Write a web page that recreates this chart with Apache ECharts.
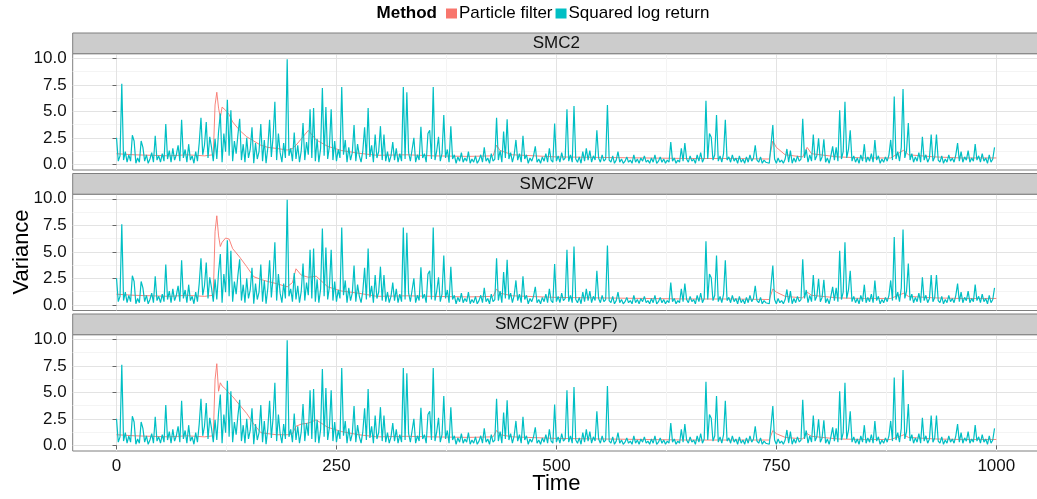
<!DOCTYPE html>
<html><head><meta charset="utf-8">
<script src="https://cdn.jsdelivr.net/npm/echarts@6.0.0/dist/echarts.min.js"></script>
<style>html,body{margin:0;padding:0;background:#fff}#c{width:1037px;height:499px}</style>
</head><body><div id="c"></div>
<script>
const panelNames = ['SMC2', 'SMC2FW', 'SMC2FW (PPF)'];
const xTicks = [0, 250, 500, 750, 1000];
const xMinor = [125, 375, 625, 875];
const yTicks = [0, 2.5, 5, 7.5, 10];
const yMinor = [1.25, 3.75, 6.25, 8.75];

// Squared log return, one value every 2 time steps (t = 0, 2, 4, ...)
const sqStep = 2;
const sqLogReturn = [
 2.5,0.3,0.8,7.6,0.4,1.2,0.2,0.9,0.3,2.75,2.2,0.1,0.6,0.2,2.2,1.6,0.3,0.9,0.1,0.5,1.1,0.2,2.7,0.4,0.8,
 0.2,1.0,0.3,3.8,0.5,1.3,0.2,1.5,0.4,0.9,1.8,0.3,4.2,0.6,1.4,0.2,1.9,0.4,0.8,0.1,1.2,0.3,2.0,4.4,0.9,
 1.8,4.0,0.6,2.6,1.6,0.3,2.4,0.5,3.1,4.8,0.2,2.9,1.2,6.1,0.8,5.1,0.3,2.2,1.0,2.8,4.3,0.4,1.9,0.2,2.5,
 0.6,1.4,3.5,0.1,2.0,0.5,1.2,3.8,0.3,2.3,0.1,1.6,4.2,0.7,2.6,5.9,0.4,2.9,1.1,0.2,2.0,0.6,9.9,0.8,1.5,
 0.3,3.0,0.5,1.8,0.2,1.3,3.9,0.4,2.1,0.9,5.2,0.6,5.3,0.3,2.4,0.2,1.5,7.2,0.8,5.4,0.5,1.7,5.2,0.4,2.2,
 0.3,1.4,0.6,7.3,0.9,2.3,0.2,1.6,0.4,1.1,3.7,0.3,1.9,0.8,0.2,1.3,3.5,0.5,5.3,0.7,1.8,0.2,2.8,0.6,1.2,
 3.6,0.4,2.8,0.3,1.2,0.2,0.8,2.1,0.4,1.5,0.2,1.0,0.3,7.3,0.5,6.8,1.1,0.3,1.4,2.5,0.2,0.9,0.4,3.55,0.6,
 1.0,0.2,2.9,3.2,0.5,7.3,0.4,1.3,2.6,0.3,1.0,4.65,0.6,1.4,0.2,3.6,0.5,0.9,0.1,0.7,0.3,1.1,0.2,0.6,0.3,
 1.2,0.1,0.5,0.2,0.8,0.1,0.4,0.9,0.2,1.6,0.3,0.6,0.1,1.0,0.3,0.5,4.4,0.4,1.3,0.2,3.1,0.6,4.25,0.5,1.1,
 0.2,0.9,2.3,0.4,1.0,0.2,2.7,0.5,0.9,0.1,0.6,0.3,0.8,1.7,0.2,0.5,0.1,0.7,0.3,1.0,0.2,1.5,0.4,0.2,3.86,
 0.3,0.8,0.2,1.1,0.4,0.6,5.2,0.3,0.9,0.2,5.5,0.5,0.2,0.7,0.1,1.2,0.3,1.5,0.4,1.3,0.2,0.8,0.4,3.2,0.6,
 0.2,0.9,0.3,0.5,5.6,0.4,0.2,0.8,0.1,0.4,1.2,0.2,0.5,0.1,0.3,0.7,0.2,0.4,0.1,0.9,0.2,0.5,0.1,0.6,0.3,
 0.8,0.2,0.4,0.1,0.6,0.2,0.9,0.1,0.3,0.7,0.2,0.5,0.1,0.4,0.2,2.1,0.3,0.6,0.1,0.4,0.2,1.5,0.3,2.0,0.5,
 0.2,0.8,0.3,0.5,0.1,0.9,0.3,1.1,0.2,0.6,6.0,0.5,2.9,2.55,0.4,0.9,4.65,0.3,0.8,0.2,1.0,4.2,0.4,0.7,0.2,
 0.9,0.3,0.6,0.1,0.8,0.2,0.5,0.1,0.7,0.2,0.9,0.3,0.6,1.8,0.4,0.2,0.7,0.1,0.4,0.2,0.3,0.1,0.2,3.7,0.5,
 0.1,0.6,0.2,0.4,0.1,0.5,1.45,0.2,1.3,0.1,0.6,0.2,0.8,0.3,0.5,4.3,0.6,1.4,0.2,0.9,0.3,2.8,0.4,0.8,2.45,
 0.3,0.7,2.35,0.2,0.6,0.1,0.8,1.7,0.4,1.6,0.3,5.1,0.5,1.2,5.9,0.6,1.4,3.2,0.3,0.8,0.2,0.6,0.1,0.9,0.3,
 1.9,0.2,0.7,0.3,1.0,0.2,2.3,0.4,0.8,0.1,0.5,0.2,0.7,0.3,0.9,2.3,0.4,6.4,0.5,1.2,0.3,1.6,7.1,0.6,1.3,
 3.9,0.4,1.0,0.2,0.7,0.3,1.1,0.2,2.6,0.4,0.9,0.2,0.6,2.8,0.3,0.7,2.8,0.4,0.2,0.8,0.1,0.5,0.2,0.9,0.3,
 0.6,0.2,0.9,2.0,0.3,1.2,0.2,0.7,0.4,1.3,0.2,0.6,0.3,1.9,0.4,0.8,0.2,1.0,0.3,0.6,0.1,0.9,0.2,0.5,1.6
];

// Particle filter variance estimates (per panel)
const pfTime = [0,20,40,60,80,100, 110,112,114,116,118,120, 124,128,132,140,148,156,
 164,172,182,194,200,204, 210,218,227,240,256,275, 296,330,360,400,428,432,
 436,450,500,550,600,650, 700,742,746,750,760,780, 785,790,820,850,880,892, 895,900,930,960,1000];
const pfSMC2 = [1.0,0.9,0.85,0.8,0.9,0.8, 0.9,5.6,6.8,5.3,4.4,5.4, 5.1,4.7,4.0,3.2,2.6,2.2,
 1.8,1.6,1.5,1.35,1.5,1.8, 2.4,3.2,2.3,1.7,1.3,1.05, 0.85,0.9,0.8,0.75,0.8,1.8,
 1.3,0.9,0.7,0.65,0.6,0.55, 0.55,0.5,2.2,1.6,0.9,0.7, 1.6,1.0,0.7,0.6,0.6,1.2, 1.35,0.9,0.7,0.6,0.6];
const pfSMC2FW = [1.0,0.9,0.85,0.8,0.9,0.8, 0.9,6.9,8.4,6.5,5.5,5.9, 6.3,6.2,5.3,4.5,3.6,2.65,
 2.4,2.2,2.0,1.7,2.1,3.4, 2.8,2.6,2.7,1.7,1.3,1.1, 0.8,0.85,0.8,0.75,0.8,1.5,
 1.1,0.85,0.7,0.65,0.6,0.55, 0.55,0.5,1.5,1.2,0.8,0.65, 1.2,0.9,0.65,0.6,0.6,1.0, 1.1,0.8,0.65,0.6,0.6];
const pfPPF = [1.0,0.9,0.85,0.8,0.9,0.8, 0.9,6.2,7.7,5.1,5.9,5.6, 5.3,4.9,4.6,3.8,3.0,2.0,
 1.2,1.1,1.0,1.0,1.1,1.8, 2.0,2.1,2.4,1.7,1.3,1.0, 0.8,0.85,0.8,0.75,0.8,1.4,
 1.0,0.8,0.65,0.6,0.55,0.5, 0.5,0.5,1.4,1.1,0.75,0.6, 1.1,0.85,0.6,0.55,0.55,0.9, 1.0,0.75,0.6,0.55,0.55];
const pfByPanel = [pfSMC2, pfSMC2FW, pfPPF];

const FONT = 'Liberation Sans, Arial, sans-serif';
const RED = '#F8766D', TEAL = '#00BFC4';
const L = 72.7, W = 967.4, TOP0 = 53.7, H = 116.3, STEP = 140.5, STRIP = 20.7;
const XMIN = -49.8, XMAX = 1049.8, YMIN = -0.535, YMAX = 10.435;

const grid = [], xAxis = [], yAxis = [], series = [], graphic = [];
panelNames.forEach((name, i) => {
  const top = TOP0 + i * STEP;
  const bottom = i === panelNames.length - 1;
  grid.push({left: L, top: top, width: W, height: H, show: true, outerBoundsMode: 'none', containLabel: false,
    backgroundColor: '#fff', borderColor: '#7f7f7f', borderWidth: 1});
  // minor grid axes
  xAxis.push({type: 'value', gridIndex: i, min: XMIN, max: XMAX, position: 'bottom',
    axisLine: {show: false}, axisTick: {show: false, customValues: xMinor},
    axisLabel: {show: false, customValues: xMinor},
    splitLine: {show: true, lineStyle: {color: '#f4f4f4', width: 1}}});
  yAxis.push({type: 'value', gridIndex: i, min: YMIN, max: YMAX, position: 'left',
    axisLine: {show: false}, axisTick: {show: false, customValues: yMinor},
    axisLabel: {show: false, customValues: yMinor},
    splitLine: {show: true, lineStyle: {color: '#f4f4f4', width: 1}}});
  // major axes
  xAxis.push({type: 'value', gridIndex: i, min: XMIN, max: XMAX, position: 'bottom', offset: 0,
    axisLine: {show: false},
    axisTick: {show: bottom, customValues: xTicks, length: 4, lineStyle: {color: '#666'}},
    axisLabel: {show: bottom, customValues: xTicks, margin: 7, color: '#111', fontSize: 17, fontFamily: FONT,
      formatter: v => String(v)},
    splitLine: {show: true, lineStyle: {color: '#e3e3e3', width: 1}}});
  yAxis.push({type: 'value', gridIndex: i, min: YMIN, max: YMAX, position: 'left', offset: 0,
    axisLine: {show: false},
    axisTick: {show: true, customValues: yTicks, length: 4, lineStyle: {color: '#666'}},
    axisLabel: {show: true, customValues: yTicks, margin: 6, color: '#111', fontSize: 17, fontFamily: FONT,
      formatter: v => Number(v).toFixed(1)},
    splitLine: {show: true, lineStyle: {color: '#e3e3e3', width: 1}}});
  const xi = i * 2 + 1, yi = i * 2 + 1;
  series.push({name: 'Particle filter', type: 'line', xAxisIndex: xi, yAxisIndex: yi,
    data: pfTime.map((t, k) => [t, pfByPanel[i][k]]), showSymbol: false, animation: false,
    lineStyle: {color: RED, width: 0.9}, itemStyle: {color: RED}, z: 3});
  series.push({name: 'Squared log return', type: 'line', xAxisIndex: xi, yAxisIndex: yi,
    data: sqLogReturn.map((v, k) => [k * sqStep, v]), showSymbol: false, animation: false,
    lineStyle: {color: TEAL, width: 1.2}, itemStyle: {color: TEAL}, z: 4});
  graphic.push({type: 'rect', shape: {x: L, y: top - STRIP, width: W, height: STRIP},
    style: {fill: '#cccccc', stroke: '#7f7f7f', lineWidth: 1}, z: 10});
  graphic.push({type: 'text', x: L + W / 2, y: top - STRIP / 2,
    style: {text: name, fill: '#111', font: '17px ' + FONT, textAlign: 'center', textVerticalAlign: 'middle'}, z: 11});
});
graphic.push({type: 'text', x: 437, y: 13,
  style: {text: 'Method', fill: '#000', font: 'bold 17px ' + FONT, textAlign: 'right', textVerticalAlign: 'middle'}});
graphic.push({type: 'text', x: L + W / 2, y: 484,
  style: {text: 'Time', fill: '#000', font: '22px ' + FONT, textAlign: 'center', textVerticalAlign: 'middle'}});
graphic.push({type: 'text', x: 22, y: 252, rotation: Math.PI / 2,
  style: {text: 'Variance', fill: '#000', font: '22px ' + FONT, textAlign: 'center', textVerticalAlign: 'middle'}});

const chart = echarts.init(document.getElementById('c'), null, {renderer: 'canvas'});
chart.setOption({
  animation: false,
  backgroundColor: '#fff',
  legend: {data: ['Particle filter', 'Squared log return'], left: 441, top: 0, icon: 'rect',
    itemWidth: 11, itemHeight: 10, itemGap: 3,
    textStyle: {fontSize: 17, fontFamily: FONT, color: '#000', padding: [0, 0, 0, -3]}},
  grid: grid, xAxis: xAxis, yAxis: yAxis, series: series, graphic: graphic
});
</script></body></html>
